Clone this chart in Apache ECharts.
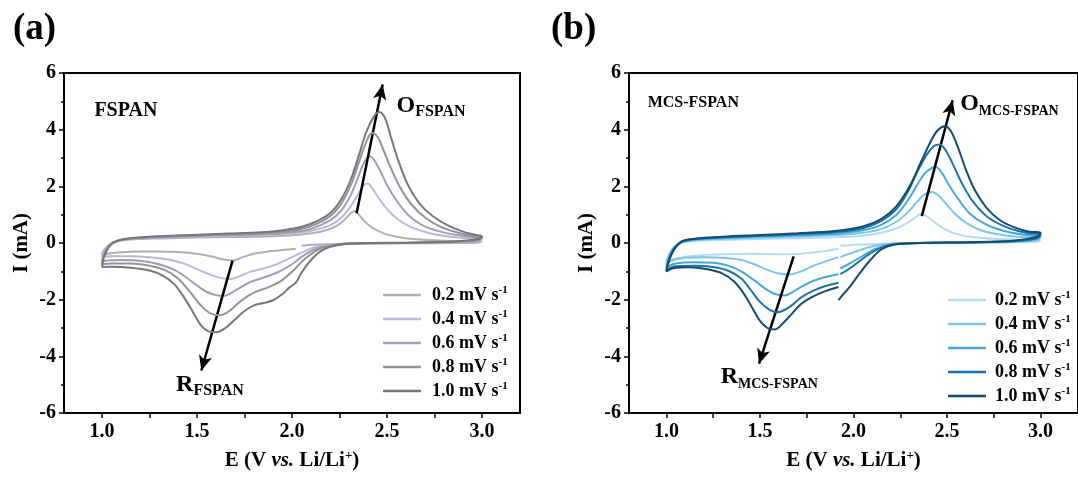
<!DOCTYPE html>
<html><head><meta charset="utf-8">
<script src="https://cdn.jsdelivr.net/npm/echarts@6/dist/echarts.min.js"></script>
<style>html,body{margin:0;padding:0;background:#fff}#c{width:1078px;height:478px}</style>
</head><body><div id="c"></div>
<script>
// ---------- data ----------
const rates = ['0.2', '0.4', '0.6', '0.8', '1.0'];
const xTickLabels = [1.0, 1.5, 2.0, 2.5, 3.0];
const xTickMarks = [1.0, 1.25, 1.5, 1.75, 2.0, 2.25, 2.5, 2.75, 3.0];

// Panel (a) FSPAN  [E (V), I (mA)]
const fspan02 = [[2.02,-0.2],[1.9,-0.28],[1.8,-0.38],[1.74,-0.5],[1.69,-0.62],[1.64,-0.58],[1.58,-0.48],[1.5,-0.38],[1.4,-0.32],[1.3,-0.3],[1.2,-0.3],[1.1,-0.33],[1.03,-0.38],[1.0,-0.42],
 [1.01,-0.25],[1.04,-0.05],[1.08,0.06],[1.15,0.12],[1.3,0.16],[1.5,0.19],[1.7,0.21],[1.9,0.24],[2.05,0.3],[2.15,0.4],[2.22,0.55],[2.27,0.78],[2.31,1.05],[2.33,1.13],[2.35,1.02],[2.38,0.78],[2.42,0.55],[2.48,0.35],[2.55,0.22],[2.65,0.13],[2.8,0.08],[2.95,0.06],[3.0,0.06],
 [2.98,0.02],[2.85,0.0],[2.6,-0.01],[2.4,-0.02],[2.2,-0.04],[2.1,-0.06],[2.05,-0.1]];
const fspan04 = [[1.0,-0.5],[1.01,-0.3],[1.04,-0.05],[1.08,0.07],[1.15,0.14],[1.3,0.19],[1.5,0.23],[1.7,0.26],[1.9,0.3],[2.0,0.34],[2.1,0.43],[2.2,0.62],[2.26,0.9],[2.31,1.3],[2.35,1.75],[2.38,2.05],[2.40,2.1],[2.42,1.95],[2.45,1.65],[2.5,1.2],[2.56,0.82],[2.63,0.55],[2.72,0.35],[2.82,0.23],[2.92,0.17],[3.0,0.15],
 [2.98,0.08],[2.85,0.02],[2.6,0.0],[2.4,-0.01],[2.25,-0.03],[2.15,-0.1],[2.08,-0.25],[2.0,-0.5],[1.92,-0.75],[1.85,-0.9],[1.78,-1.02],[1.72,-1.18],[1.68,-1.27],[1.63,-1.24],[1.57,-1.12],[1.5,-0.92],[1.43,-0.72],[1.35,-0.58],[1.25,-0.5],[1.15,-0.47],[1.05,-0.47],[1.0,-0.5]];
const fspan06 = [[1.0,-0.65],[1.01,-0.4],[1.04,-0.08],[1.08,0.07],[1.15,0.15],[1.3,0.21],[1.5,0.25],[1.7,0.29],[1.9,0.33],[2.0,0.38],[2.1,0.5],[2.2,0.8],[2.26,1.15],[2.31,1.7],[2.35,2.35],[2.38,2.85],[2.41,3.05],[2.43,2.95],[2.46,2.6],[2.5,2.05],[2.55,1.5],[2.61,1.0],[2.68,0.65],[2.77,0.42],[2.87,0.28],[2.95,0.21],[3.0,0.19],
 [2.98,0.1],[2.85,0.03],[2.6,0.0],[2.4,-0.01],[2.25,-0.04],[2.15,-0.15],[2.07,-0.4],[2.0,-0.75],[1.92,-1.05],[1.85,-1.22],[1.78,-1.38],[1.72,-1.6],[1.67,-1.8],[1.64,-1.87],[1.6,-1.84],[1.55,-1.72],[1.5,-1.5],[1.44,-1.2],[1.38,-0.95],[1.3,-0.75],[1.2,-0.63],[1.1,-0.6],[1.03,-0.62],[1.0,-0.65]];
const fspan08 = [[1.0,-0.75],[1.01,-0.45],[1.04,-0.1],[1.08,0.07],[1.15,0.16],[1.3,0.22],[1.5,0.27],[1.7,0.31],[1.9,0.37],[2.0,0.44],[2.1,0.6],[2.2,0.95],[2.26,1.4],[2.31,2.05],[2.35,2.8],[2.39,3.55],[2.42,3.88],[2.45,3.75],[2.48,3.3],[2.52,2.65],[2.57,1.95],[2.63,1.35],[2.7,0.9],[2.78,0.58],[2.87,0.37],[2.95,0.25],[3.0,0.21],
 [2.98,0.12],[2.85,0.04],[2.6,0.0],[2.4,-0.01],[2.25,-0.05],[2.15,-0.2],[2.07,-0.55],[2.01,-0.95],[1.95,-1.3],[1.88,-1.55],[1.8,-1.75],[1.73,-2.05],[1.67,-2.4],[1.62,-2.55],[1.57,-2.48],[1.52,-2.2],[1.46,-1.7],[1.4,-1.25],[1.33,-0.95],[1.25,-0.8],[1.15,-0.72],[1.05,-0.72],[1.0,-0.75]];
const fspan10 = [[1.0,-0.85],[1.01,-0.5],[1.04,-0.1],[1.08,0.08],[1.15,0.17],[1.3,0.24],[1.5,0.29],[1.7,0.34],[1.9,0.41],[2.0,0.5],[2.1,0.68],[2.2,1.05],[2.26,1.55],[2.31,2.25],[2.35,3.05],[2.39,3.9],[2.43,4.45],[2.46,4.62],[2.49,4.4],[2.52,3.75],[2.56,2.9],[2.61,2.05],[2.67,1.4],[2.74,0.95],[2.82,0.62],[2.9,0.4],[2.97,0.28],[3.0,0.24],
 [2.98,0.14],[2.85,0.05],[2.6,0.01],[2.4,0.0],[2.25,-0.06],[2.16,-0.25],[2.1,-0.6],[2.05,-1.05],[2.02,-1.4],[1.99,-1.55],[1.95,-1.8],[1.9,-2.02],[1.85,-2.12],[1.8,-2.2],[1.75,-2.4],[1.7,-2.7],[1.65,-3.0],[1.6,-3.15],[1.56,-3.12],[1.52,-2.9],[1.48,-2.45],[1.43,-1.9],[1.38,-1.45],[1.32,-1.15],[1.25,-0.97],[1.15,-0.87],[1.05,-0.84],[1.0,-0.85]];

// Panel (b) MCS-FSPAN
const mcs02 = [[1.92,-0.2],[1.85,-0.28],[1.75,-0.36],[1.65,-0.4],[1.55,-0.39],[1.45,-0.38],[1.3,-0.4],[1.15,-0.45],[1.05,-0.55],[1.0,-0.65],
 [1.01,-0.45],[1.04,-0.15],[1.08,0.0],[1.15,0.07],[1.3,0.11],[1.5,0.14],[1.7,0.17],[1.9,0.2],[2.05,0.26],[2.15,0.36],[2.23,0.52],[2.29,0.72],[2.33,0.9],[2.36,1.02],[2.39,0.95],[2.43,0.75],[2.48,0.52],[2.55,0.32],[2.65,0.2],[2.8,0.13],[2.95,0.1],[3.0,0.1],
 [2.98,0.05],[2.85,0.02],[2.6,0.0],[2.35,-0.01],[2.15,-0.03],[2.0,-0.06],[1.93,-0.1]];
const mcs04 = [[1.92,-0.5],[1.85,-0.65],[1.78,-0.82],[1.72,-1.0],[1.66,-1.11],[1.6,-1.08],[1.54,-0.95],[1.47,-0.75],[1.4,-0.6],[1.3,-0.52],[1.2,-0.5],[1.1,-0.52],[1.03,-0.62],[1.0,-0.75],
 [1.01,-0.5],[1.04,-0.15],[1.08,0.02],[1.15,0.1],[1.3,0.15],[1.5,0.19],[1.7,0.23],[1.9,0.28],[2.05,0.36],[2.15,0.5],[2.23,0.75],[2.29,1.08],[2.34,1.45],[2.38,1.72],[2.42,1.8],[2.45,1.7],[2.49,1.42],[2.54,1.05],[2.6,0.72],[2.68,0.45],[2.78,0.3],[2.9,0.21],[3.0,0.2],
 [2.98,0.1],[2.85,0.04],[2.6,0.01],[2.35,0.0],[2.2,-0.03],[2.1,-0.12],[2.02,-0.28],[1.96,-0.42],[1.93,-0.5]];
const mcs06 = [[1.92,-1.1],[1.85,-1.2],[1.78,-1.35],[1.72,-1.55],[1.67,-1.75],[1.63,-1.85],[1.58,-1.8],[1.53,-1.62],[1.47,-1.32],[1.4,-1.0],[1.33,-0.8],[1.25,-0.7],[1.15,-0.68],[1.05,-0.72],[1.0,-0.85],
 [1.01,-0.6],[1.04,-0.2],[1.08,0.03],[1.15,0.12],[1.3,0.18],[1.5,0.23],[1.7,0.27],[1.9,0.33],[2.05,0.45],[2.15,0.65],[2.23,1.0],[2.29,1.5],[2.34,2.05],[2.38,2.45],[2.42,2.65],[2.44,2.68],[2.47,2.5],[2.51,2.05],[2.56,1.55],[2.62,1.05],[2.7,0.68],[2.8,0.43],[2.9,0.3],[3.0,0.25],
 [2.98,0.14],[2.85,0.05],[2.6,0.01],[2.35,0.0],[2.2,-0.05],[2.12,-0.2],[2.05,-0.45],[1.98,-0.72],[1.93,-0.9]];
const mcs08 = [[1.92,-1.4],[1.85,-1.52],[1.78,-1.7],[1.72,-1.92],[1.67,-2.2],[1.62,-2.4],[1.59,-2.44],[1.55,-2.35],[1.5,-2.08],[1.45,-1.65],[1.4,-1.25],[1.33,-0.98],[1.25,-0.85],[1.15,-0.8],[1.05,-0.82],[1.0,-0.95],
 [1.01,-0.65],[1.04,-0.2],[1.08,0.04],[1.15,0.14],[1.3,0.2],[1.5,0.26],[1.7,0.31],[1.9,0.38],[2.05,0.52],[2.15,0.78],[2.23,1.2],[2.29,1.8],[2.34,2.5],[2.39,3.1],[2.43,3.42],[2.46,3.48],[2.49,3.3],[2.53,2.8],[2.58,2.1],[2.64,1.45],[2.72,0.9],[2.82,0.55],[2.92,0.36],[3.0,0.3],
 [2.98,0.17],[2.85,0.06],[2.6,0.02],[2.35,0.0],[2.2,-0.06],[2.12,-0.25],[2.05,-0.55],[1.98,-0.9],[1.93,-1.1]];
const mcs10 = [[1.92,-1.55],[1.85,-1.7],[1.78,-1.9],[1.72,-2.15],[1.67,-2.5],[1.62,-2.85],[1.58,-3.05],[1.54,-3.0],[1.5,-2.75],[1.46,-2.3],[1.41,-1.75],[1.36,-1.35],[1.3,-1.08],[1.22,-0.93],[1.12,-0.86],[1.04,-0.88],[1.0,-1.0],
 [1.01,-0.7],[1.04,-0.25],[1.08,0.05],[1.15,0.15],[1.3,0.22],[1.5,0.28],[1.7,0.34],[1.9,0.42],[2.05,0.58],[2.15,0.85],[2.23,1.3],[2.3,2.0],[2.36,2.85],[2.41,3.55],[2.45,3.98],[2.49,4.12],[2.52,3.95],[2.56,3.35],[2.6,2.6],[2.65,1.85],[2.71,1.25],[2.78,0.82],[2.86,0.55],[2.94,0.4],[3.0,0.36],
 [2.98,0.22],[2.85,0.08],[2.6,0.03],[2.35,0.0],[2.22,-0.05],[2.15,-0.22],[2.09,-0.6],[2.03,-1.1],[1.98,-1.55],[1.94,-1.85],[1.92,-2.02]];

// Annotations (data coordinates)
const labelsA = [[0.96, 4.68, 'FSPAN'], [2.55, 4.85, 'O', 'FSPAN'], [1.39, -5.0, 'R', 'FSPAN']];
const labelsB = [[0.9, 4.94, 'MCS-FSPAN'], [2.57, 4.9, 'O', 'MCS-FSPAN'], [1.29, -4.73, 'R', 'MCS-FSPAN']];
const arrowsA = [[[2.34, 1.05], [2.477, 5.59]], [[1.687, -0.62], [1.523, -4.5]]];
const arrowsB = [[[2.365, 0.95], [2.53, 5.04]], [[1.68, -0.47], [1.495, -4.26]]];

// ---------- styles ----------
const FONT = "'Liberation Serif','Times New Roman',serif";
const colorsA = ['#aeaeae', '#bdb6d8', '#a39bb7', '#939393', '#777777'];
const colorsB = ['#b3dcf2', '#7fc4e8', '#45a6dc', '#1b72a6', '#154b71'];
const dataA = [fspan02, fspan04, fspan06, fspan08, fspan10];
const dataB = [mcs02, mcs04, mcs06, mcs08, mcs10];

const chart = echarts.init(document.getElementById('c'), null, {renderer: 'canvas'});

function xAxis(gi) {
  return {
    type: 'value', gridIndex: gi, min: 0.8, max: 3.2,
    axisLine: {show: true, onZero: false, lineStyle: {color: '#000', width: 2}},
    axisTick: {show: true, customValues: xTickMarks, length: 5, lineStyle: {color: '#000', width: 1.5}},
    axisLabel: {customValues: xTickLabels, formatter: v => v.toFixed(1), fontFamily: FONT, fontWeight: 'bold', fontSize: 20, color: '#000', margin: 9},
    splitLine: {show: false},
    name: '{b|E (V }{i|vs.}{b| Li/Li}{s|+}{b|)}', nameLocation: 'middle', nameGap: 36,
    nameTextStyle: {rich: {
      b: {fontFamily: FONT, fontWeight: 'bold', fontSize: 21, color: '#000', lineHeight: 24},
      i: {fontFamily: FONT, fontWeight: 'bold', fontStyle: 'italic', fontSize: 21, color: '#000', lineHeight: 24},
      s: {fontFamily: FONT, fontWeight: 'bold', fontSize: 13, color: '#000', lineHeight: 13, verticalAlign: 'top'}
    }}
  };
}
function yAxis(gi) {
  return {
    type: 'value', gridIndex: gi, min: -6, max: 6, interval: 2,
    axisLine: {show: true, onZero: false, lineStyle: {color: '#000', width: 2}},
    axisTick: {show: true, length: 5, lineStyle: {color: '#000', width: 1.5}},
    minorTick: {show: true, splitNumber: 2, length: 3, lineStyle: {color: '#000', width: 1.5}},
    axisLabel: {fontFamily: FONT, fontWeight: 'bold', fontSize: 20, color: '#000', margin: 8},
    splitLine: {show: false}, minorSplitLine: {show: false},
    name: 'I (mA)', nameLocation: 'middle', nameRotate: 90, nameGap: 32,
    nameTextStyle: {fontFamily: FONT, fontWeight: 'bold', fontSize: 21, color: '#000'}
  };
}
function legendCfg(prefix, left, top, textGap) {
  return {
    data: rates.map(r => prefix + r), orient: 'vertical', left: left, top: top, padding: 0,
    itemWidth: 38, itemHeight: 2.5, itemGap: 5, icon: 'rect',
    formatter: n => '{t|' + n.slice(1) + ' mV s}{s|-1}',
    textStyle: {padding: [0, 0, 0, textGap], rich: {
      t: {fontFamily: FONT, fontWeight: 'bold', fontSize: 18, color: '#000', lineHeight: 20},
      s: {fontFamily: FONT, fontWeight: 'bold', fontSize: 11, color: '#000', lineHeight: 11, verticalAlign: 'top'}
    }}
  };
}
function annoSeries(gi, labels, plainSize, subSize) {
  return {
    type: 'scatter', xAxisIndex: gi, yAxisIndex: gi, symbolSize: 0, silent: true, z: 10,
    data: labels,
    label: {
      show: true, position: 'right', distance: 0, color: '#000', opacity: 1,
      formatter: p => p.data[3] ? '{big|' + p.data[2] + '}{sub|' + p.data[3] + '}' : '{plain|' + p.data[2] + '}',
      rich: {
        plain: {fontFamily: FONT, fontWeight: 'bold', fontSize: plainSize, color: '#000'},
        big: {fontFamily: FONT, fontWeight: 'bold', fontSize: 24, color: '#000', lineHeight: 28},
        sub: {fontFamily: FONT, fontWeight: 'bold', fontSize: subSize, color: '#000', lineHeight: 16, verticalAlign: 'bottom'}
      }
    }
  };
}
function arrowSeries(gi, arrows) {
  return {
    type: 'line', xAxisIndex: gi, yAxisIndex: gi, data: [], silent: true, z: 9,
    markLine: {
      silent: true, animation: false, symbol: ['none', 'arrow'], symbolSize: [10, 15],
      lineStyle: {color: '#000', width: 2.5, type: 'solid'}, label: {show: false},
      data: arrows.map(a => [{coord: a[0]}, {coord: a[1]}])
    }
  };
}

const series = [];
dataA.forEach((d, i) => series.push({
  name: 'a' + rates[i], type: 'line', xAxisIndex: 0, yAxisIndex: 0, data: d,
  symbol: 'none', smooth: 0.35, color: colorsA[i], lineStyle: {width: 2, color: colorsA[i]}, z: 2 + i
}));
dataB.forEach((d, i) => series.push({
  name: 'b' + rates[i], type: 'line', xAxisIndex: 1, yAxisIndex: 1, data: d,
  symbol: 'none', smooth: 0.35, color: colorsB[i], lineStyle: {width: 2, color: colorsB[i]}, z: 2 + i
}));
series.push(arrowSeries(0, arrowsA), arrowSeries(1, arrowsB));
series.push(annoSeries(0, labelsA, 20, 16), annoSeries(1, labelsB, 16, 14));

chart.setOption({
  animation: false,
  backgroundColor: '#fff',
  title: [
    {text: '(a)', left: 8, top: 6, textStyle: {fontFamily: FONT, fontWeight: 'bold', fontSize: 37, color: '#000'}},
    {text: '(b)', left: 546, top: 6, textStyle: {fontFamily: FONT, fontWeight: 'bold', fontSize: 37, color: '#000'}}
  ],
  grid: [
    {left: 64, top: 73, width: 456, height: 340, show: true, borderColor: '#000', borderWidth: 2, backgroundColor: 'transparent'},
    {left: 629, top: 73, width: 455, height: 340, show: true, borderColor: '#000', borderWidth: 2, backgroundColor: 'transparent'}
  ],
  xAxis: [xAxis(0), xAxis(1)],
  yAxis: [yAxis(0), yAxis(1)],
  legend: [legendCfg('a', 383, 285, 6), legendCfg('b', 948, 290, 4)],
  series: series
});
</script></body></html>
